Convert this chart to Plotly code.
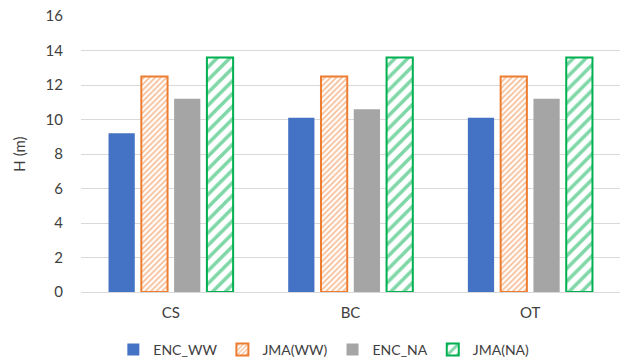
import plotly.graph_objects as go

categories = ["CS", "BC", "OT"]
enc_ww = [9.2, 10.1, 10.1]
jma_ww = [12.5, 12.5, 12.5]
enc_na = [11.2, 10.6, 11.2]
jma_na = [13.6, 13.6, 13.6]
y_ticks = [0, 2, 4, 6, 8, 10, 12, 14, 16]

FONT = "Lato, Liberation Sans, Arial, sans-serif"
TXT = "#404040"

fig = go.Figure()
fig.add_trace(go.Bar(name="ENC_WW", x=categories, y=enc_ww,
                     marker=dict(color="#4472C4", line=dict(color="#4472C4", width=0))))
fig.add_trace(go.Bar(name="JMA(WW)", x=categories, y=jma_ww,
                     marker=dict(color="white", line=dict(color="#ED7D31", width=2),
                                 pattern=dict(shape="/", fgcolor="#ED7D31", bgcolor="white",
                                              size=4, solidity=0.45, fillmode="overlay"))))
fig.add_trace(go.Bar(name="ENC_NA", x=categories, y=enc_na,
                     marker=dict(color="#A5A5A5", line=dict(color="#A5A5A5", width=0))))
fig.add_trace(go.Bar(name="JMA(NA)", x=categories, y=jma_na,
                     marker=dict(color="white", line=dict(color="#00B050", width=2),
                                 pattern=dict(shape="/", fgcolor="#00B050", bgcolor="white",
                                              size=9, solidity=0.4, fillmode="overlay"))))

fig.update_layout(
    width=637, height=361,
    margin=dict(l=81, r=17, t=16, b=69, autoexpand=False),
    paper_bgcolor="white", plot_bgcolor="white",
    barmode="group", bargap=0.27, bargroupgap=0.2,
    font=dict(family=FONT, size=15, color=TXT),
    showlegend=True,
    legend=dict(orientation="h", x=0.06, xanchor="left", y=-0.21, yanchor="middle",
                bgcolor="rgba(0,0,0,0)",
                font=dict(family=FONT, size=14, color=TXT), itemwidth=30, traceorder="normal"),
    xaxis=dict(showgrid=False, showline=True, linecolor="#D9D9D9", linewidth=1,
               ticks="outside", ticklen=7, tickcolor="rgba(0,0,0,0)",
               tickfont=dict(family=FONT, size=15, color=TXT)),
    yaxis=dict(range=[0, 16], tickvals=y_ticks, showgrid=True, gridcolor="#D9D9D9",
               gridwidth=1, zeroline=False, showline=False,
               ticks="outside", ticklen=14, tickcolor="rgba(0,0,0,0)",
               title=dict(text="H (m)", font=dict(family=FONT, size=15, color=TXT), standoff=16),
               tickfont=dict(family=FONT, size=15, color=TXT)),
)

fig.write_html("out.html", config={"displayModeBar": False},
               post_script="document.body.style.margin='0';document.body.style.overflow='hidden';")
